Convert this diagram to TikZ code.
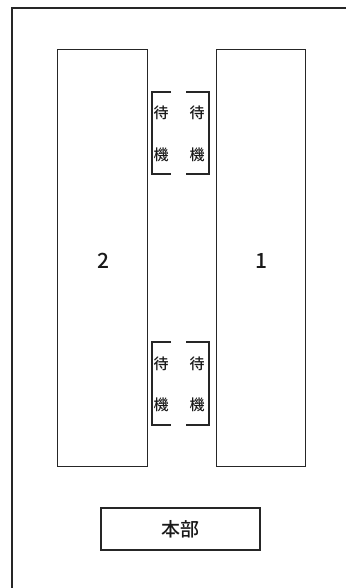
\documentclass[tikz,border=0pt]{standalone}
\usepackage{fontspec}
\newfontfamily\jp{Noto Sans CJK JP Medium}
\tikzset{
  ln/.style={draw=black!85, line width=1.1pt},
  bld/.style={ln, rectangle, inner sep=0pt, anchor=north west},
  ch/.style={font=\jp\fontsize{15pt}{15pt}\selectfont, text=black!90, inner sep=0pt},
  num/.style={font=\jp\fontsize{21pt}{21pt}\selectfont, text=black!90, inner sep=0pt},
}
\begin{document}
\begin{tikzpicture}[x=1pt,y=-1pt]
\useasboundingbox (0,0) rectangle (345,588);
% outer frame (open to right and bottom)
\coordinate (fTR) at (346,8);
\coordinate (fTL) at (12,8);
\coordinate (fBL) at (12,589);
\draw[ln] (fTR) -- (fTL) -- (fBL);
% buildings
\node[bld, minimum width=90pt, minimum height=417pt] (b2) at (57,49) {};
\node[bld, minimum width=89pt, minimum height=417pt] (b1) at (216,49) {};
\node[num] (n2) at (103,261) {2};
\node[num] (n1) at (261,261) {1};
% waiting brackets (upper)
\coordinate (ulA) at (171,92); \coordinate (ulB) at (152,92);
\coordinate (ulC) at (152,174); \coordinate (ulD) at (171,174);
\draw[ln] (ulA) -- (ulB) -- (ulC) -- (ulD);
\coordinate (urA) at (186,92); \coordinate (urB) at (209,92);
\coordinate (urC) at (209,174); \coordinate (urD) at (186,174);
\draw[ln] (urA) -- (urB) -- (urC) -- (urD);
\node[ch] (t1) at (161,113) {待};
\node[ch] (t2) at (161,155) {機};
\node[ch] (t3) at (197,113) {待};
\node[ch] (t4) at (197,155) {機};
% waiting brackets (lower)
\coordinate (llA) at (171,342); \coordinate (llB) at (152,342);
\coordinate (llC) at (152,425); \coordinate (llD) at (171,425);
\draw[ln] (llA) -- (llB) -- (llC) -- (llD);
\coordinate (lrA) at (186,342); \coordinate (lrB) at (209,342);
\coordinate (lrC) at (209,425); \coordinate (lrD) at (186,425);
\draw[ln] (lrA) -- (lrB) -- (lrC) -- (lrD);
\node[ch] (t5) at (161,364) {待};
\node[ch] (t6) at (161,405) {機};
\node[ch] (t7) at (197,364) {待};
\node[ch] (t8) at (197,405) {機};
% headquarters
\node[ln, rectangle, minimum width=159pt, minimum height=42pt, inner sep=0pt,
      font=\jp\fontsize{19pt}{19pt}\selectfont, text=black!90] (hq) at (180.5,529) {本部};
\end{tikzpicture}
\end{document}
